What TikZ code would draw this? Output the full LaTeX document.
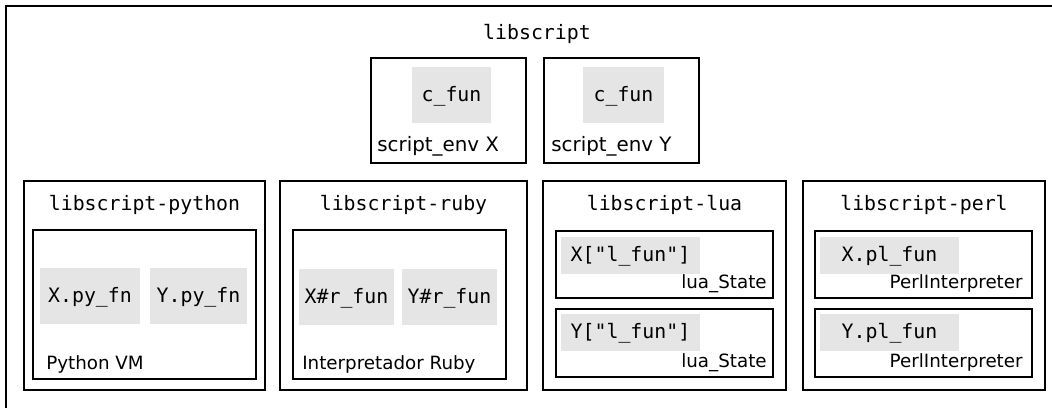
\documentclass[tikz,border=0pt]{standalone}
\usepackage{fontspec}
\setmainfont{DejaVu Sans}
\setmonofont{DejaVu Sans Mono}
\begin{document}
\begin{tikzpicture}[x=0.02cm,y=-0.02cm,
    frame/.style={line width=1.15pt},
    vmbox/.style={line width=0.7pt},
    fn/.style={fill=black!10,inner sep=0pt,text height=0.73em,text depth=0pt,font=\fontsize{11.3}{13}\ttfamily},
    title/.style={anchor=base,inner sep=0pt,font=\fontsize{11.3}{13}\ttfamily},
    envlabel/.style={anchor=base west,inner sep=0pt,font=\fontsize{11.3}{13}\selectfont},
    vmlabel/.style={inner sep=0pt,font=\fontsize{10.4}{12}\selectfont}]
	\useasboundingbox (0,0) rectangle (1052,408);
	\clip (0,0) rectangle (1052,408);
	\draw[frame] (6,420) -- (6,6) -- (1060,6);
	\node[title] (lib) at (537,40) {libscript};
	\draw[vmbox] (371,58) rectangle (526,163);
	\draw[vmbox] (544,58) rectangle (699,163);
	\node[fn,minimum width=1.58cm,minimum height=1.12cm] (cx) at (451.5,95) {c\_fun};
	\node[fn,minimum width=1.62cm,minimum height=1.12cm] (cy) at (623.5,95) {c\_fun};
	\node[envlabel] (envx) at (377,152) {script\_env X};
	\node[envlabel] (envy) at (551,152) {script\_env Y};
	\draw[frame] (24,181) rectangle (265,390);
	\draw[frame] (280,181) rectangle (527,390);
	\draw[frame] (543,181) rectangle (786,390);
	\draw[frame] (803,181) rectangle (1045,390);
	\node[title] (py) at (144.5,211) {libscript-python};
	\node[title] (rb) at (403.5,211) {libscript-ruby};
	\node[title] (lua) at (664.5,211) {libscript-lua};
	\node[title] (pl) at (924,211) {libscript-perl};
	\draw[vmbox] (33,230) rectangle (256,379);
	\draw[vmbox] (293,230) rectangle (506,379);
	\draw[vmbox] (556,231) rectangle (773,298);
	\draw[vmbox] (556,309) rectangle (773,377);
	\draw[vmbox] (815,231) rectangle (1032,298);
	\draw[vmbox] (815,309) rectangle (1032,377);
	\node[fn,minimum width=2cm,minimum height=1.12cm] (pyx) at (90,296) {X.py\_fn};
	\node[fn,minimum width=1.94cm,minimum height=1.12cm] (pyy) at (198.5,296) {Y.py\_fn};
	\node[fn,minimum width=1.9cm,minimum height=1.12cm] (rbx) at (346.5,297) {X\#r\_fun};
	\node[fn,minimum width=1.9cm,minimum height=1.12cm] (rby) at (449.5,297) {Y\#r\_fun};
	\node[fn,minimum width=2.78cm,minimum height=0.74cm] (luax) at (630.5,255.5) {X["l\_fun"]};
	\node[fn,minimum width=2.78cm,minimum height=0.74cm] (luay) at (630.5,332.5) {Y["l\_fun"]};
	\node[fn,minimum width=2.78cm,minimum height=0.74cm] (plx) at (889.5,255.5) {X.pl\_fun};
	\node[fn,minimum width=2.78cm,minimum height=0.74cm] (ply) at (889.5,332.5) {Y.pl\_fun};
	\node[vmlabel,anchor=base west] (pyvm) at (46,370) {Python VM};
	\node[vmlabel,anchor=base west] (rbvm) at (302,370) {Interpretador Ruby};
	\node[vmlabel,anchor=base east] (luavm1) at (767,289) {lua\_State};
	\node[vmlabel,anchor=base east] (luavm2) at (767,368) {lua\_State};
	\node[vmlabel,anchor=base east] (plvm1) at (1023,289) {PerlInterpreter};
	\node[vmlabel,anchor=base east] (plvm2) at (1023,368) {PerlInterpreter};
\end{tikzpicture}
\end{document}
